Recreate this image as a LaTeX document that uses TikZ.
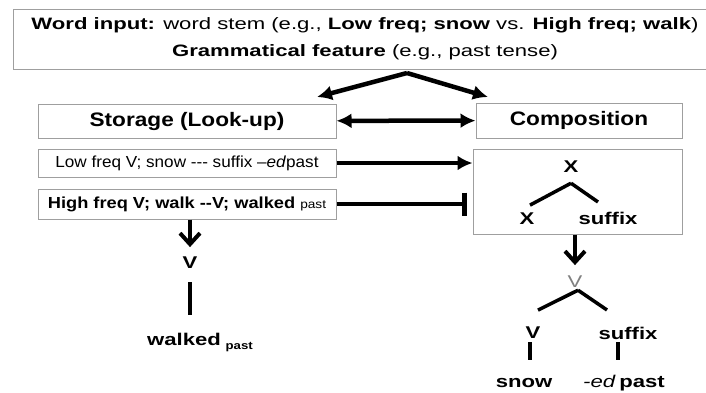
\documentclass[tikz,border=0pt]{standalone}
\usepackage{fontspec}
\setmainfont{Liberation Sans}
\usepackage{graphicx}
\usepackage{tikz}
\usetikzlibrary{arrows.meta}
\usetikzlibrary{positioning}

% widen a piece of text without changing its height
\newcommand{\hs}[2]{\scalebox{#1}[1]{#2}}

\tikzset{
    box/.style={draw=gray!75, line width=1pt, inner sep=0pt},
    lbl/.style={inner sep=0pt, anchor=base, font=\bfseries\fontsize{17}{17}\selectfont},
    link/.style={line width=4.5pt, -{Latex[length=15pt,width=15pt]}},
    both/.style={line width=4.5pt, {Latex[length=15pt,width=15pt]}-{Latex[length=15pt,width=15pt]}},
    down/.style={line width=4pt, -{Straight Barb[length=11pt,width=20pt,line width=4pt]}},
    stem/.style={line width=4.5pt},
    branch/.style={line width=3.5pt},
}

\begin{document}
\begin{tikzpicture}[x=1pt, y=-1pt]
        \useasboundingbox[fill=white] (0,0) rectangle (706,392);
        \clip (0,0) rectangle (706,392);

        \node[box, minimum width=704pt, minimum height=60pt, align=center, font=\fontsize{16.5}{27}\selectfont] (word_input) at (365,39)
            {\hs{1.34}{\textbf{Word input:} word stem (e.g., \textbf{Low freq; snow} vs. \textbf{High freq; walk})}\\
             \hs{1.34}{\textbf{Grammatical feature} (e.g., past tense)}};

        \node[box, minimum width=298pt, minimum height=34pt, font=\bfseries\fontsize{19.5}{20}\selectfont] (storage) at (187,121) {\hs{1.16}{Storage (Look-up)}};
        \node[box, minimum width=206pt, minimum height=35pt, font=\bfseries\fontsize{19.5}{20}\selectfont] (composition) at (579,120.5) {\hs{1.16}{Composition}};
        \node[box, minimum width=298pt, minimum height=28pt, font=\fontsize{16}{16}\selectfont] (low_freq) at (187,163)
            {\hs{1.07}{Low freq V; snow -{}-{}- suffix \textendash\textit{ed}past}};
        \node[box, minimum width=298pt, minimum height=30pt, font=\bfseries\fontsize{16}{16}\selectfont] (high_freq) at (187,204)
            {\hs{1.14}{High freq V; walk -{}-V; walked {\mdseries\fontsize{12}{12}\selectfont past}}};
        \node[box, minimum width=209pt, minimum height=85pt] (comp_tree) at (577.5,191.5) {};

        % input splits to both routes
        \coordinate (fork) at (407,73);
        \coordinate (to_storage) at (317,97);
        \coordinate (to_comp) at (488,97);
        \draw[link] (fork) -- (to_storage);
        \draw[link] (fork) -- (to_comp);
        \draw[both] (storage) -- (composition);
        \draw[link] (low_freq.east) -- (comp_tree.west |- low_freq.east);
        \draw[line width=4.5pt, -{Bar[width=23pt,line width=4.5pt]}, shorten >=6pt] (high_freq.east) -- (comp_tree.west |- high_freq.east);

        % tree inside the composition box
        \node[lbl] (x_top) at (571,172) {\hs{1.3}{X}};
        \node[lbl] (x_left) at (527,224) {\hs{1.3}{X}};
        \node[lbl] (x_suffix) at (608,224) {\hs{1.3}{suffix}};
        \coordinate (apex) at ([yshift=-11pt]x_top.south);
        \draw[branch] (apex) -- ([shift={(3pt,7pt)}]x_left.north);
        \draw[branch] (apex) -- ([shift={(-10pt,9.5pt)}]x_suffix.north);

        % stored route
        \node[lbl] (v_stored) at (190,268) {\hs{1.3}{V}};
        \node[lbl, anchor=base west] (walked) at (147,345) {\hs{1.3}{walked} {\fontsize{11}{11}\selectfont\raisebox{-4pt}{\hs{1.2}{past}}}};
        \draw[down, shorten >=9pt] (high_freq.south -| v_stored) -- (v_stored.north);
        \draw[stem] ([yshift=-14pt]v_stored.south) -- ++(0,33);

        % composed route
        \node[lbl, font=\fontsize{17}{17}\selectfont, text=gray] (v_top) at (575,287) {\hs{1.3}{V}};
        \node[lbl] (v_stem) at (533,338) {\hs{1.3}{V}};
        \node[lbl] (suf_low) at (628,339) {\hs{1.3}{suffix}};
        \node[lbl] (snow) at (524,387) {\hs{1.3}{snow}};
        \node[lbl] (ed_past) at (624,387) {\hs{1.3}{\textit{\mdseries -ed}\,past}};
        \draw[down, shorten >=10pt] (comp_tree.south -| v_top) -- (v_top.north);
        \draw[branch] ([shift={(3pt,-3pt)}]v_top.south) -- ([shift={(5pt,16pt)}]v_stem.north);
        \draw[branch] ([shift={(3pt,-3pt)}]v_top.south) -- ([shift={(-21pt,16.5pt)}]suf_low.north);
        \draw[stem] ([shift={(-3pt,-4pt)}]v_stem.south) -- ++(0,18);
        \draw[stem] ([shift={(-10pt,-3pt)}]suf_low.south) -- ++(0,18);
\end{tikzpicture}
\end{document}
